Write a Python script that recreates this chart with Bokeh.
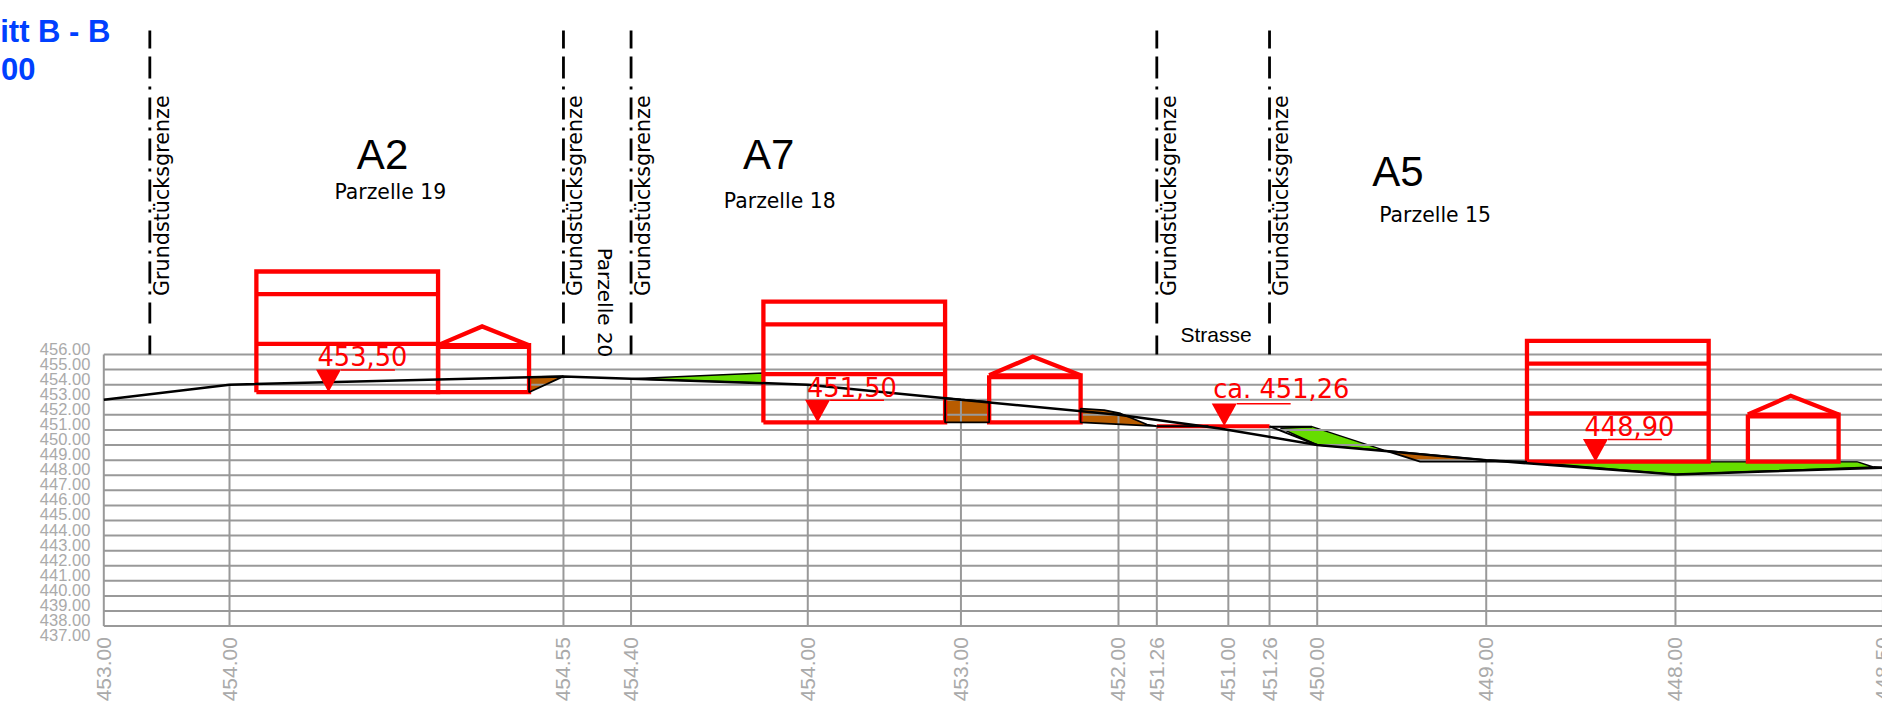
from math import pi
from bokeh.core.properties import value
from bokeh.embed import file_html
from bokeh.plotting import figure
from bokeh.resources import INLINE

# --- section stations (metres along the section) and their terrain heights
station_x = [0.0, 8.33, 30.46, 34.94, 46.65, 56.80, 67.24, 69.78, 74.52, 77.25, 80.41, 91.61, 104.15, 117.90]
station_labels = ["453.00", "454.00", "454.55", "454.40", "454.00", "453.00", "452.00", "451.26",
                  "451.00", "451.26", "450.00", "449.00", "448.00", "448.50"]
station_top = [456.0, 454.0, 454.55, 454.4, 454.0, 453.0, 452.0, 451.26, 451.05, 451.26, 450.0, 449.0, 448.05, 448.5]

grid_levels = [456 - i for i in range(19)]
level_labels = [f"{456 - i}.00" for i in range(20)]

# --- existing terrain
terrain_x = [0.0, 8.33, 30.46, 34.94, 46.65, 56.80, 67.24, 73.95, 80.41, 91.61, 104.15, 117.90]
terrain_y = [453.0, 454.0, 454.55, 454.4, 454.0, 453.0, 452.0, 451.1, 450.0, 449.0, 448.05, 448.5]

# --- cut and fill areas
brown_x = [[28.18, 30.46, 28.18], [55.75, 58.67, 58.67, 55.75], [64.73, 66.29, 67.37, 69.13, 69.78, 64.73],
           [84.93, 87.23, 94.31, 91.61]]
brown_y = [[454.50, 454.55, 453.5], [453.10, 452.86, 451.5, 451.5], [452.41, 452.31, 452.09, 451.36, 451.26, 451.5],
           [449.63, 448.9, 448.9, 449.0]]
green_x = [[34.94, 43.71, 43.71], [77.98, 80.06, 84.93, 80.41], [94.31, 116.17, 117.25, 104.15]]
green_y = [[454.4, 454.77, 454.11], [451.12, 451.22, 449.63, 450.0], [448.9, 448.9, 448.54, 448.05]]

# --- planned road
road_x = [69.78, 77.25]
road_y = [451.24, 451.24]
road_edge_x = [[69.78, 73.2], [77.25, 80.41], [77.25, 80.06], [117.25, 117.90]]
road_edge_y = [[451.24, 451.24], [451.24, 450.0], [451.22, 451.22], [448.54, 448.5]]

# --- buildings: left, right, floor; garage: left, apex, right
house_x0 = [10.11, 43.71, 94.31]
house_x1 = [22.15, 55.75, 106.35]
house_floor = [453.5, 451.5, 448.9]
house_rise = [3.2, 6.5, 8.0]
garage_x0 = [22.15, 58.67, 108.95]
garage_apex = [25.07, 61.56, 111.79]
garage_x1 = [28.18, 64.73, 114.96]
garage_wall = 3.0
garage_eave = 3.12
garage_ridge = 4.36

# --- height markers
marker_x = [14.89, 47.30, 74.25, 98.85]
marker_level = [453.5, 451.5, 451.26, 448.9]
marker_text = ["453,50", "451,50", "ca. 451,26", "448,90"]
marker_text_x = [14.16, 46.60, 73.52, 98.12]
marker_text_y = [455.90, 453.83, 453.70, 451.29]

# --- plot boundaries
boundary_x = [3.05, 30.46, 34.94, 69.78, 77.25]
boundary_label_x = [3.85, 31.25, 35.74, 70.58, 78.04]

names = ["A2", "A7", "A5"]
names_x = [16.77, 42.35, 84.06]
names_y = [469.24, 469.24, 468.10]
parcels = ["Parzelle 19", "Parzelle 18", "Parzelle 15"]
parcels_x = [15.28, 41.09, 84.52]
parcels_y = [466.78, 466.16, 465.26]

GREY = "#999999"
LABEL = "#aaaaaa"
RED = "#ff0000"
BLUE = "#0040ff"
BROWN = "#b85c00"
GREEN = "#66dd00"

p = figure(width=1882, height=708, output_backend="svg", toolbar_location=None,
           x_range=(-6.846, 117.87), y_range=(432.54, 479.46), min_border=0)
p.axis.visible = False
p.grid.visible = False
p.outline_line_color = None

# fills below the grid
p.patches(brown_x, brown_y, fill_color=BROWN, line_color=None)
p.patches(green_x, green_y, fill_color=GREEN, line_color="black", line_width=1.5)

# grid
p.multi_line([[0, 117.9]] * len(grid_levels), [[v, v] for v in grid_levels], line_color=GREY, line_width=2)
p.multi_line([[x, x] for x in station_x], [[t, 438] for t in [456.0] + station_top[1:]],
             line_color=GREY, line_width=2)

# buildings
house_xs, house_ys = [], []
for x0, x1, f in zip(house_x0, house_x1, house_floor):
    house_xs.append([x0, x1, x1, x0, x0])
    house_ys.append([f, f, f + house_rise[2], f + house_rise[2], f])
    for r in house_rise[:2]:
        house_xs.append([x0, x1])
        house_ys.append([f + r, f + r])
for x0, xa, x1, f in zip(garage_x0, garage_apex, garage_x1, house_floor):
    house_xs.append([x0, x0, x1, x1, x0])
    house_ys.append([f + garage_eave, f, f, f + garage_eave, f + garage_eave])
    house_xs.append([x0, x1])
    house_ys.append([f + garage_wall, f + garage_wall])
    house_xs.append([x0, xa, x1])
    house_ys.append([f + garage_eave, f + garage_ridge, f + garage_eave])
p.multi_line(house_xs, house_ys, line_color=RED, line_width=4.3, line_join="miter")
p.line(road_x, road_y, line_color=RED, line_width=4)

# brown outline and terrain on top of the buildings
p.patches(brown_x, brown_y, fill_color=None, line_color="black", line_width=1.8)
p.line(terrain_x, terrain_y, line_color="black", line_width=2.5)
p.multi_line(road_edge_x, road_edge_y, line_color="black", line_width=2)

# height markers
p.patches([[x - 0.83, x + 0.83, x] for x in marker_x],
          [[lv + 1.5, lv + 1.5, lv] for lv in marker_level], fill_color=RED, line_color=None)
p.multi_line([[x + 0.83, x + 4.4] for x in marker_x], [[lv + 1.47, lv + 1.47] for lv in marker_level],
             line_color=RED, line_width=1.5)
p.text(marker_text_x, marker_text_y, text=marker_text, text_color=RED, text_font_size="25.7px",
       text_font=value("DejaVu Sans"), text_align="left", text_baseline="alphabetic")

# plot boundaries
for x in boundary_x:
    p.line([x, x], [477.47, 476.28], line_color="black", line_width=2.8)
    p.line([x, x], [475.75, 458.05], line_color="black", line_width=2.8, line_dash="22 8 3 8")
    p.line([x, x], [457.26, 456.0], line_color="black", line_width=2.8)
p.text(boundary_label_x, [459.88] * len(boundary_label_x), text=["Grundstücksgrenze"] * len(boundary_label_x),
       angle=pi / 2, text_color="black", text_font_size="20.7px", text_font=value("DejaVu Sans"),
       text_align="left", text_baseline="alphabetic")
p.text([33.2], [463.08], text=["Parzelle 20"], angle=-pi / 2, text_color="black", text_font_size="20px",
       text_font=value("DejaVu Sans"), text_align="left", text_baseline="alphabetic")
p.text([71.35], [457.33], text=["Strasse"], text_color="black", text_font_size="21px",
       text_font=value("Liberation Sans"), text_align="left", text_baseline="alphabetic")

# names
p.text(names_x, names_y, text=names, text_color="black", text_font_size="42px",
       text_font=value("Liberation Sans"), text_align="left", text_baseline="alphabetic")
p.text(parcels_x, parcels_y, text=parcels, text_color="black", text_font_size="20.4px",
       text_font=value("DejaVu Sans"), text_align="left", text_baseline="alphabetic")

# title fragments visible in the crop
p.text([0.44, -4.53], [477.43, 474.92], text=["itt B - B", "00"], text_color=BLUE, text_font_size="31px",
       text_font_style="bold", text_font=value("Liberation Sans"), text_align="right", text_baseline="alphabetic")

# level and station labels
levels = [456 - i for i in range(20)]
p.text([-0.895] * len(levels), levels, text=level_labels, y_offset=-6, text_color=LABEL, text_font_size="16.5px",
       text_font=value("Liberation Sans"), text_align="right", text_baseline="middle")
p.text(station_x, [437.27] * len(station_x), text=station_labels, angle=pi / 2, text_color=LABEL,
       text_font_size="21px", text_font=value("Liberation Sans"), text_align="right", text_baseline="middle")

open("out.html", "w").write(file_html(p, INLINE))
